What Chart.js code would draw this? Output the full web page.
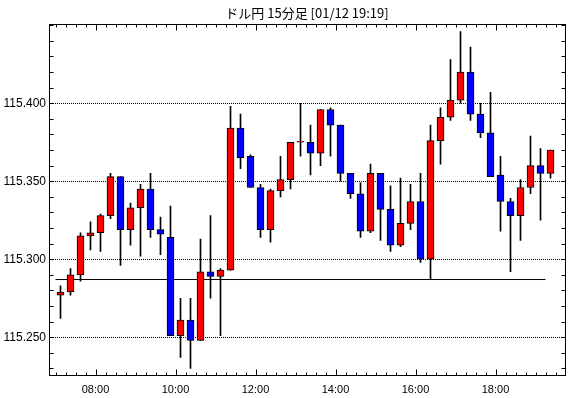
<!DOCTYPE html>
<html>
<head>
<meta charset="utf-8">
<script src="https://cdn.jsdelivr.net/npm/chart.js@4.4.0/dist/chart.umd.min.js"></script>
<style>
    html, body { margin: 0; padding: 0; background: #fff; }
    #wrap { width: 570px; height: 398px; }
</style>
</head>
<body>
<div id="wrap"><canvas id="chart" width="570" height="398"></canvas></div>
<script>
// 15 minute bars (bar start time)
const times = [
    '07:00', '07:15', '07:30', '07:45', '08:00', '08:15', '08:30', '08:45', '09:00', '09:15',
    '09:30', '09:45', '10:00', '10:15', '10:30', '10:45', '11:00', '11:15', '11:30', '11:45',
    '12:00', '12:15', '12:30', '12:45', '13:00', '13:15', '13:30', '13:45', '14:00', '14:15',
    '14:30', '14:45', '15:00', '15:15', '15:30', '15:45', '16:00', '16:15', '16:30', '16:45',
    '17:00', '17:15', '17:30', '17:45', '18:00', '18:15', '18:30', '18:45', '19:00', '19:15'
];
const opens = [
    115.277, 115.279, 115.290, 115.315, 115.317, 115.328, 115.353, 115.319, 115.333, 115.345,
    115.319, 115.314, 115.251, 115.261, 115.248, 115.292, 115.289, 115.293, 115.384, 115.366,
    115.346, 115.319, 115.344, 115.351, 115.375, 115.375, 115.368, 115.396, 115.386, 115.355,
    115.342, 115.318, 115.355, 115.332, 115.309, 115.323, 115.337, 115.300, 115.376, 115.391,
    115.402, 115.420, 115.393, 115.381, 115.354, 115.337, 115.328, 115.346, 115.360, 115.355
];
const highs = [
    115.283, 115.294, 115.317, 115.324, 115.329, 115.355, 115.353, 115.336, 115.348, 115.355,
    115.327, 115.334, 115.275, 115.275, 115.313, 115.328, 115.294, 115.398, 115.393, 115.367,
    115.348, 115.345, 115.366, 115.375, 115.400, 115.386, 115.396, 115.397, 115.386, 115.355,
    115.349, 115.361, 115.355, 115.347, 115.352, 115.348, 115.355, 115.386, 115.397, 115.428,
    115.446, 115.436, 115.400, 115.407, 115.366, 115.339, 115.351, 115.379, 115.371, 115.370
];
const lows = [
    115.262, 115.277, 115.286, 115.306, 115.305, 115.326, 115.296, 115.309, 115.302, 115.314,
    115.303, 115.251, 115.237, 115.230, 115.248, 115.275, 115.251, 115.293, 115.358, 115.346,
    115.314, 115.311, 115.340, 115.345, 115.366, 115.354, 115.360, 115.366, 115.350, 115.339,
    115.314, 115.317, 115.312, 115.305, 115.308, 115.319, 115.298, 115.287, 115.361, 115.389,
    115.400, 115.389, 115.378, 115.353, 115.318, 115.292, 115.312, 115.342, 115.325, 115.352
];
const closes = [
    115.279, 115.290, 115.315, 115.317, 115.328, 115.353, 115.319, 115.333, 115.345, 115.319,
    115.316, 115.251, 115.261, 115.248, 115.292, 115.289, 115.293, 115.384, 115.365, 115.346,
    115.319, 115.344, 115.351, 115.375, 115.375, 115.368, 115.396, 115.386, 115.355, 115.342,
    115.318, 115.355, 115.332, 115.309, 115.323, 115.337, 115.300, 115.376, 115.391, 115.402,
    115.420, 115.393, 115.381, 115.353, 115.337, 115.328, 115.346, 115.360, 115.355, 115.370
];

const xTickLabels = ['08:00', '10:00', '12:00', '14:00', '16:00', '18:00'];
const yTickValues = [115.25, 115.30, 115.35, 115.40];

// horizontal reference level
const refLevel = 115.287;
const refFrom = '07:00';
const refTo = '19:15';

const titleText = 'ドル円 15分足 [01/12 19:19]';

const BAR_MIN = 15;
const fontFamily = '"Liberation Sans", Arial, sans-serif';

function toMin(t) {
    const [h, m] = t.split(':').map(Number);
    return h * 60 + m;
}
function fmtMin(v) {
    const h = Math.floor(v / 60), m = Math.round(v % 60);
    return String(h).padStart(2, '0') + ':' + String(m).padStart(2, '0');
}

const xs = times.map(t => toMin(t) + BAR_MIN / 2);
const bodyColors = opens.map((o, i) => closes[i] >= o ? '#ff0000' : '#0000ff');

// Frame and inward tick marks
const frameTicks = {
    id: 'frameTicks',
    afterDraw(chart) {
        const { ctx, chartArea: a, scales: { x, y } } = chart;
        const L = Math.round(a.left) + 0.5;
        const R = Math.round(a.right) + 0.5;
        const T = Math.round(a.top) + 0.5;
        const B = Math.round(a.bottom) + 0.5;
        ctx.save();
        ctx.strokeStyle = '#000';
        ctx.lineWidth = 1;
        ctx.beginPath();
        // price ticks every 0.01
        for (let v = Math.ceil(y.min * 100) / 100; v <= y.max; v += 0.01) {
            const py = Math.round(y.getPixelForValue(v)) + 0.5;
            ctx.moveTo(L, py); ctx.lineTo(L + 4, py);
            ctx.moveTo(R, py); ctx.lineTo(R - 4, py);
        }
        // time ticks every 15 minutes, longer every 2 hours
        for (let t = Math.ceil(x.min / BAR_MIN) * BAR_MIN; t <= x.max; t += BAR_MIN) {
            const px = Math.round(x.getPixelForValue(t)) + 0.5;
            const len = t % 120 === 0 ? 6 : 3;
            ctx.moveTo(px, T); ctx.lineTo(px, T + len);
            ctx.moveTo(px, B); ctx.lineTo(px, B - len);
        }
        ctx.stroke();
        ctx.strokeRect(L, T, R - L, B - T);
        ctx.restore();
    }
};

new Chart(document.getElementById('chart'), {
    type: 'bar',
    data: {
        datasets: [
            {
                label: 'body',
                data: xs.map((x, i) => ({ x, y: [opens[i], closes[i]] })),
                backgroundColor: bodyColors,
                borderColor: '#000',
                borderWidth: 1,
                borderSkipped: false,
                barThickness: 7,
                minBarLength: 1,
                grouped: false,
                order: 0
            },
            {
                label: 'wick',
                data: xs.map((x, i) => ({ x, y: [lows[i], highs[i]] })),
                backgroundColor: '#000',
                borderWidth: 0,
                barThickness: 1,
                grouped: false,
                order: 1
            },
            {
                type: 'line',
                label: 'ref',
                data: [
                    { x: toMin(refFrom), y: refLevel },
                    { x: toMin(refTo), y: refLevel }
                ],
                borderColor: '#000',
                borderWidth: 1,
                pointRadius: 0,
                order: 2
            }
        ]
    },
    options: {
        responsive: false,
        animation: false,
        layout: { padding: { top: 0, right: 5, bottom: 0, left: 0 } },
        plugins: {
            legend: { display: false },
            tooltip: { enabled: false },
            title: {
                display: true,
                text: titleText,
                fullSize: false,
                color: '#000',
                font: { family: '"Noto Sans CJK JP", sans-serif', size: 13, weight: 'normal', lineHeight: 1.2 },
                padding: { top: 5, bottom: 3.7 }
            }
        },
        scales: {
            x: {
                type: 'linear',
                min: 410.25,
                max: 1184.25,
                offset: false,
                grid: { display: false, drawTicks: false },
                border: { display: false },
                afterBuildTicks: axis => {
                    axis.ticks = xTickLabels.map(l => ({ value: toMin(l) }));
                },
                afterFit: axis => { axis.height = 23; },
                ticks: {
                    autoSkip: false,
                    maxRotation: 0,
                    padding: 8,
                    color: '#000',
                    font: { family: fontFamily, size: 11 },
                    callback: v => fmtMin(v)
                }
            },
            y: {
                type: 'linear',
                min: 115.2258,
                max: 115.4506,
                grid: {
                    color: '#000',
                    lineWidth: 1,
                    drawTicks: false
                },
                border: { display: false, dash: [1, 1] },
                afterBuildTicks: axis => {
                    axis.ticks = yTickValues.map(v => ({ value: v }));
                },
                afterFit: axis => { axis.width = 49; },
                ticks: {
                    padding: 3,
                    color: '#000',
                    font: { family: fontFamily, size: 12 },
                    callback: v => Number(v).toFixed(3)
                }
            }
        }
    },
    plugins: [frameTicks]
});
</script>
</body>
</html>
